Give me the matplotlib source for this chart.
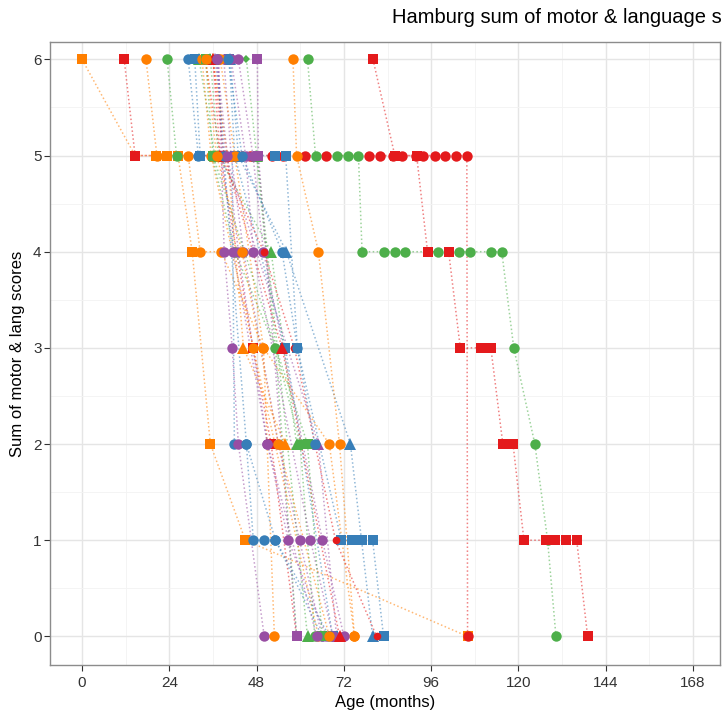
import matplotlib
matplotlib.use('Agg')
import matplotlib.pyplot as plt
from matplotlib.ticker import MultipleLocator

# one entry per subject: colour group, marker group, visit ages (months), scores
groups = ['O', 'R', 'O', 'G', 'B', 'G', 'R', 'G', 'P', 'P',
          'B', 'B', 'B', 'G', 'P', 'O', 'G', 'R', 'P', 'P',
          'P', 'P', 'R', 'O', 'O', 'O', 'R', 'G', 'B', 'B',
          'P', 'O']
shapes = ['s', 's', 'o', 'o', 'o', '^', 'o', '^', '^', 'o',
          's', 's', '^', 'D', 's', 'o', 'o', 's', 'o', 'o',
          'o', 'o', 'small', '^', 'o', 'o', '^', 's', 'o', 'o',
          'o', 'o']
ages = [
    [0, 14.6, 20.4, 23.4, 26.4, 30.3, 35.3, 44.9, 106],
    [11.6, 14.6, 38, 47, 52, 59],
    [17.6, 20.6, 29.2, 32.5, 38.3, 49.9, 68, 74.9],
    [23.4, 26, 35.8, 42, 53.2, 60, 64],
    [29.2, 32, 41.3, 41.9, 45.2, 47.1, 50.1, 53.2, 66],
    [32.2, 36.5, 48.2, 62],
    [33.9, 38, 44, 46.3, 52.3, 55.4, 61.2, 67, 79, 82, 85.4, 88, 91.7, 93.7, 97, 99.7, 102.8, 105.8, 106],
    [35.3, 37.5, 52, 59],
    [36.6, 39.5, 65, 70],
    [37.5, 39.1, 41.3, 43, 50.1],
    [31, 32.5, 53.2, 56, 59.2, 71.3, 74.1, 76.9, 79.9, 82.9],
    [40.5, 42, 55.9, 68.9],
    [40.8, 43, 56.2, 73.8, 79.9],
    [45.2, 48, 53.2, 59],
    [48.2, 48.5, 59],
    [58, 59, 65, 70.8, 74.9],
    [62, 64.2, 70, 73, 76, 77, 83, 86, 88.7, 97.8, 103.6, 106.6, 112.4, 115.4, 118.7, 124.5, 128, 130.3],
    [80, 86, 92, 95, 100.8, 104, 109.6, 112.4, 115.7, 118.5, 121.5, 127.5, 130, 133, 136, 139],
    [37.5, 38.5, 41.6, 51, 56.7, 67.2],
    [39, 41, 44.4, 54, 59.8, 66],
    [41, 45, 47.1, 62.8, 69],
    [43, 47, 49.9, 66.1, 72],
    [36, 38, 50, 58.4, 69.7, 81],
    [36, 40, 44.4, 55.9],
    [38, 42, 49.9, 52.9],
    [33, 35.5, 47.1, 65],
    [36, 39, 55, 70.8],
    [34, 36, 62, 66],
    [37, 39, 45.2, 53.2, 68],
    [40.2, 44, 55, 59.2, 64],
    [37, 40, 43, 51, 64.5],
    [34, 37, 44, 54, 68],
]
scores = [
    [6, 5, 5, 5, 5, 4, 2, 1, 0],
    [6, 5, 5, 3, 2, 0],
    [6, 5, 5, 4, 4, 3, 2, 0],
    [6, 5, 5, 4, 3, 2, 0],
    [6, 5, 5, 2, 2, 1, 1, 1, 0],
    [6, 5, 5, 0],
    [6, 5, 5, 5, 5, 5, 5, 5, 5, 5, 5, 5, 5, 5, 5, 5, 5, 5, 0],
    [6, 5, 4, 2],
    [6, 5, 2, 0],
    [6, 4, 3, 2, 0],
    [6, 5, 5, 5, 3, 1, 1, 1, 1, 0],
    [6, 5, 3, 0],
    [6, 5, 4, 2, 0],
    [6, 5, 3, 0],
    [6, 5, 0],
    [6, 5, 4, 2, 0],
    [6, 5, 5, 5, 5, 4, 4, 4, 4, 4, 4, 4, 4, 4, 3, 2, 1, 0],
    [6, 5, 5, 4, 4, 3, 3, 3, 2, 2, 1, 1, 1, 1, 1, 0],
    [6, 5, 4, 2, 1, 0],
    [6, 5, 4, 2, 1, 0],
    [6, 5, 4, 1, 0],
    [6, 5, 4, 1, 0],
    [6, 5, 4, 3, 1, 0],
    [6, 5, 3, 2],
    [6, 5, 3, 0],
    [6, 5, 3, 0],
    [6, 5, 3, 0],
    [6, 5, 2, 0],
    [6, 5, 2, 1, 0],
    [6, 5, 4, 3, 2],
    [6, 5, 4, 2, 0],
    [6, 5, 4, 2, 0],
]

palette = {'R': '#E41A1C', 'B': '#377EB8', 'G': '#4DAF4A', 'P': '#984EA3', 'O': '#FF7F00'}
marker_style = {'o': ('o', 7.5), 's': ('s', 7), '^': ('^', 8), 'D': ('D', 4.5), 'small': ('o', 5.5)}

plt.rcParams['font.family'] = ['Liberation Sans', 'DejaVu Sans']

fig = plt.figure(figsize=(7.24, 7.13), dpi=100)
ax = fig.add_axes([0.069, 0.067, 0.926, 0.874])

for g, sh, xs, ys in zip(groups, shapes, ages, scores):
    col = palette[g]
    m, ms = marker_style[sh]
    ax.plot(xs, ys, linestyle=(0, (1, 1.6)), color=col, lw=1.1, alpha=0.55, zorder=2)
    ax.plot(xs, ys, linestyle='none', marker=m, markersize=ms, color=col,
            markeredgewidth=0, zorder=3)

ax.set_xlim(-8.8, 175.5)
ax.set_ylim(-0.3, 6.18)
ax.xaxis.set_major_locator(MultipleLocator(24))
ax.xaxis.set_minor_locator(MultipleLocator(12))
ax.yaxis.set_major_locator(MultipleLocator(1))
ax.yaxis.set_minor_locator(MultipleLocator(0.5))
ax.grid(which='major', color='#E5E5E5', lw=1.0, zorder=0)
ax.grid(which='minor', color='#F3F3F3', lw=0.6, zorder=0)
ax.set_axisbelow(True)
for s in ax.spines.values():
    s.set_color('#8C8C8C')
    s.set_linewidth(1.0)
ax.tick_params(which='major', direction='out', length=4, color='#333333',
               labelsize=11, labelcolor='#333333')
ax.tick_params(axis='y', pad=2)
ax.tick_params(which='minor', length=0)

ax.set_xlabel('Age (months)', fontsize=12)
ax.set_ylabel('Sum of motor & lang scores', fontsize=12, labelpad=6)
# title is cropped at the right edge in the original figure
fig.text(0.997, 0.975, 'Hamburg sum of motor & language s', fontsize=14.5,
         ha='right', va='center')

fig.savefig('out.png', dpi=100)
